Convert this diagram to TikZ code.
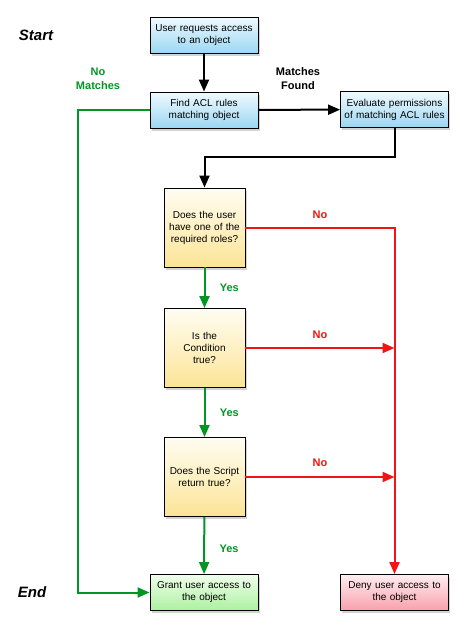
\documentclass[tikz,border=0pt]{standalone}
\usepackage{fontspec}
\setmainfont{Liberation Sans}
\usetikzlibrary{arrows.meta,shadows}
\definecolor{flowgreen}{RGB}{0,150,35}
\definecolor{flowred}{RGB}{240,20,20}
\definecolor{blueTop}{RGB}{240,250,255}
\definecolor{blueBot}{RGB}{155,215,242}
\definecolor{yelTop}{RGB}{255,253,242}
\definecolor{yelBot}{RGB}{252,228,150}
\definecolor{grnTop}{RGB}{240,255,236}
\definecolor{grnBot}{RGB}{172,240,160}
\definecolor{redTop}{RGB}{255,238,240}
\definecolor{redBot}{RGB}{248,160,172}
\begin{document}
\begin{tikzpicture}[x=1pt,y=-1pt,
  box/.style={draw=black, line width=0.9pt, align=center,
    font=\fontsize{10}{12}\selectfont, inner sep=1pt,
    drop shadow={shadow xshift=1.5pt, shadow yshift=-2.5pt, opacity=0.35}},
  wide/.style={box, minimum width=108pt, minimum height=36pt, text width=104pt},
  decision/.style={box, minimum width=81pt, minimum height=79pt, text width=77pt,
    top color=yelTop, bottom color=yelBot},
  bluebox/.style={wide, top color=blueTop, bottom color=blueBot},
  tip/.style={-{Triangle[length=12pt,width=10pt]}},
  blk/.style={tip, line width=2pt, draw=black},
  grn/.style={tip, line width=2pt, draw=flowgreen},
  rd/.style={tip, line width=2pt, draw=flowred},
  lbl/.style={font=\fontsize{11}{14}\selectfont\bfseries, align=center},
  big/.style={font=\fontsize{15}{17}\selectfont\bfseries\itshape}
]
\useasboundingbox (0,0) rectangle (468,635);

\node[bluebox] (b1) at (204,35) {User requests access\\to an object};
\node[bluebox] (b2) at (204,110) {Find ACL rules\\matching object};
\node[bluebox] (b3) at (394.5,109.5) {Evaluate permissions\\of matching ACL rules};
\node[decision] (dA) at (204.5,227.5) {Does the user\\have one of the\\required roles?};
\node[decision] (dB) at (204.5,348) {Is the\\Condition\\true?};
\node[decision] (dC) at (204.5,477) {Does the Script\\return true?};
\node[wide, top color=grnTop, bottom color=grnBot] (grant) at (204,592.5) {Grant user access to\\the object};
\node[wide, top color=redTop, bottom color=redBot] (deny) at (394.5,592.5) {Deny user access to\\the object};

\node[big] (start) at (36,35) {Start};
\node[big] (end) at (32,592) {End};
\node[lbl, text=flowgreen] (nm) at (98,79) {No\\Matches};
\node[lbl] (mf) at (298,79) {Matches\\Found};

\draw[blk] (b1) -- (b2);
\draw[blk] (b2) -- (b3);
\draw[blk] (b3.south) -- ++(0,29.5) -| (dA.north);
\draw[grn] (b2.west) -- ++(-72,0) |- (grant.west);

\draw[grn] (dA) -- node[lbl, text=flowgreen, right=11pt] {Yes} (dB);
\draw[grn] (dB) -- node[lbl, text=flowgreen, right=11pt] {Yes} (dC);
\draw[grn] (dC) -- node[lbl, text=flowgreen, right=11pt, pos=0.55] {Yes} (grant);

\coordinate (jB) at (deny.north |- dB.east);
\coordinate (jC) at (deny.north |- dC.east);
\draw[rd] (dA.east) -| (deny.north);
\draw[rd] (dB.east) -- (jB);
\draw[rd] (dC.east) -- (jC);
\node[lbl, text=flowred] (noA) at (320,215) {No};
\node[lbl, text=flowred] (noB) at (320,335) {No};
\node[lbl, text=flowred] (noC) at (320,463) {No};
\end{tikzpicture}
\end{document}
